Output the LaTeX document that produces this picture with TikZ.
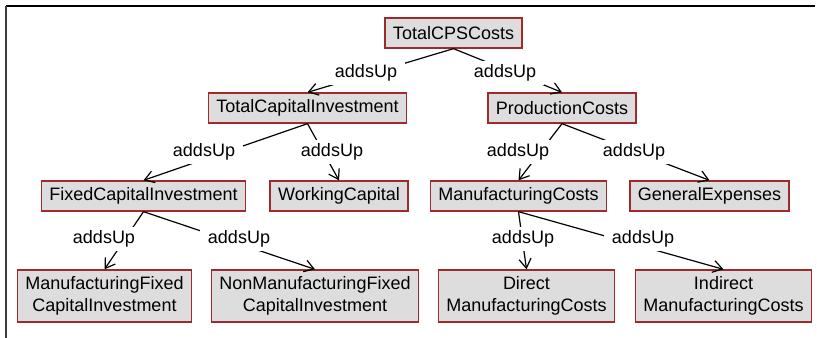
\documentclass[tikz,border=0pt]{standalone}
\usepackage{fontspec}
\setmainfont{Liberation Sans}
\usetikzlibrary{arrows.meta}
\definecolor{boxfill}{HTML}{DDDDDD}
\definecolor{boxline}{HTML}{9E2A2B}
\definecolor{frameline}{HTML}{3C3C3C}
\tikzset{
  cls/.style={draw=boxline, fill=boxfill, line width=1pt, align=center,
              font=\fontsize{13.5}{16}\selectfont, inner xsep=6pt,
              minimum height=22.5pt},
  cls2/.style={cls, minimum height=39pt},
  rel/.style={-{Straight Barb[length=7pt,width=9pt]}, line width=0.9pt, draw=black},
  rellbl/.style={fill=white, font=\fontsize{13.5}{16}\selectfont,
                 inner xsep=6pt, inner ysep=3pt}
}

\begin{document}
\begin{tikzpicture}[x=0.75pt,y=-0.75pt]
  \useasboundingbox (0,0) rectangle (817,338);
  % window frame
  \draw[line width=1.5pt, draw=black] (6,6) -- (815,6);
  \draw[line width=1.5pt, draw=frameline] (6,6) -- (6,338);

  % classes
  \node[cls] (tcps) at (453.5,33) {TotalCPSCosts};
  \node[cls] (tci) at (307.5,108) {TotalCapitalInvestment};
  \node[cls] (prod) at (562,108) {ProductionCosts};
  \node[cls] (fci) at (143.5,196) {FixedCapitalInvestment};
  \node[cls] (wc) at (339,196) {WorkingCapital};
  \node[cls] (mc) at (518.5,196) {ManufacturingCosts};
  \node[cls] (ge) at (709.5,196) {GeneralExpenses};
  \node[cls2] (mfci) at (104.5,296) {ManufacturingFixed\\CapitalInvestment};
  \node[cls2] (nmfci) at (315,296) {NonManufacturingFixed\\CapitalInvestment};
  \node[cls2] (dmc) at (526.5,296) {Direct\\ManufacturingCosts};
  \node[cls2] (imc) at (723.5,296) {Indirect\\ManufacturingCosts};

  % addsUp relations
  \draw[rel] (tcps.south) -- (tci.north);
  \draw[rel] (tcps.south) -- (prod.north);
  \draw[rel] (tci.south) -- (fci.north);
  \draw[rel] (tci.south) -- (wc.north);
  \draw[rel] (prod.south) -- (mc.north);
  \draw[rel] (prod.south) -- (ge.north);
  \draw[rel] (fci.south) -- (mfci.north);
  \draw[rel] (fci.south) -- (nmfci.north);
  \draw[rel] (mc.south) -- (dmc.north);
  \draw[rel] (mc.south) -- (imc.north);

  % relation labels
  \node[rellbl] (l-tci) at (366,73) {addsUp};
  \node[rellbl] (l-prod) at (505,73) {addsUp};
  \node[rellbl] (l-fci) at (204,152) {addsUp};
  \node[rellbl] (l-wc) at (332,152) {addsUp};
  \node[rellbl] (l-mc) at (518,152) {addsUp};
  \node[rellbl] (l-ge) at (634,152) {addsUp};
  \node[rellbl] (l-mfci) at (104,239) {addsUp};
  \node[rellbl] (l-nmfci) at (239,239) {addsUp};
  \node[rellbl] (l-dmc) at (523,239) {addsUp};
  \node[rellbl] (l-imc) at (643,239) {addsUp};
\end{tikzpicture}
\end{document}
